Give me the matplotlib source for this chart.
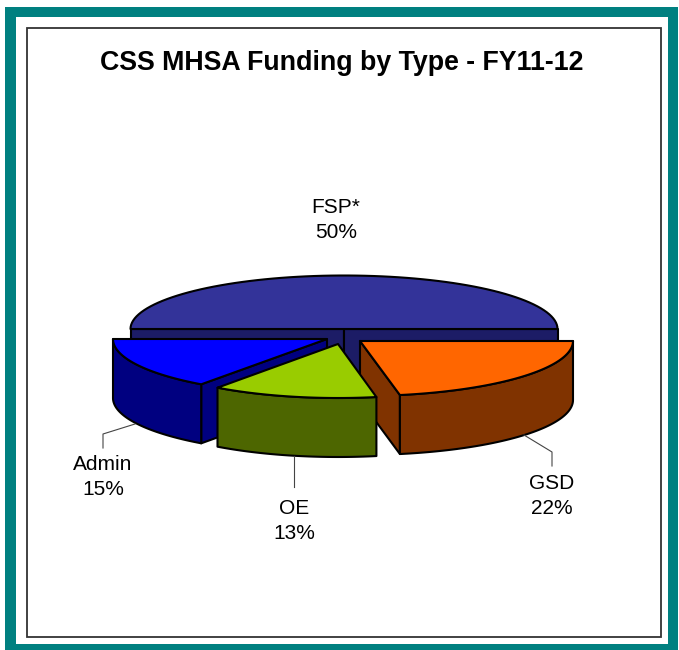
import matplotlib
matplotlib.use('Agg')
import matplotlib.pyplot as plt
from matplotlib.patches import Rectangle, Polygon
import numpy as np

plt.rcParams['font.family'] = ['Liberation Sans', 'DejaVu Sans']

title = 'CSS MHSA Funding by Type - FY11-12'
categories = ['FSP*', 'GSD', 'OE', 'Admin']
shares = [50, 22, 13, 15]
top_colors = ['#333399', '#FF6600', '#99CC00', '#0000FF']
side_colors = ['#1C1C66', '#803300', '#4D6600', '#000080']

# pie layout, in pixels of the picture
apex = {'FSP*': (344, 329), 'GSD': (360, 341), 'OE': (338, 344), 'Admin': (327, 339)}
radii = {'FSP*': (213.5, 53.5), 'GSD': (213, 55), 'OE': (205, 54), 'Admin': (214, 56)}
depth = 59
label_pos = {'FSP*': (336, 220), 'GSD': (552, 496), 'OE': (294, 521), 'Admin': (103, 477)}
leaders = {'GSD': [(524, 435), (552, 452), (552, 466)],
           'OE': [(294, 456), (294, 487)],
           'Admin': [(135, 424), (103, 434), (103, 448)]}

fig = plt.figure(figsize=(6.79, 6.5), dpi=100)
ax = fig.add_axes([0, 0, 1, 1])
ax.set_xlim(0, 679)
ax.set_ylim(650, 0)
ax.axis('off')

# teal border and inner frame
ax.add_patch(Rectangle((5, 7), 673, 643, fc='#008080', ec='none'))
ax.add_patch(Rectangle((16, 17), 652, 627, fc='white', ec='none'))
ax.add_patch(Rectangle((27, 28), 633.5, 609, fc='white', ec='#333333', lw=1.3))


def arc(name, a0, a1, n=80):
    cx, cy = apex[name]
    rx, ry = radii[name]
    t = np.radians(np.linspace(a0, a1, n))
    return np.column_stack([cx + rx * np.cos(t), cy - ry * np.sin(t)])


# slice angles, going clockwise from 180 deg so FSP is the back half
angles = {}
start = 180.0
for name, share in zip(categories, shares):
    angles[name] = (start, start - share * 3.6)
    start -= share * 3.6

edge = dict(ec='black', lw=1.5, joinstyle='round')
colors = dict(zip(categories, zip(top_colors, side_colors)))


def cut_wall(name, deg):
    cx, cy = apex[name]
    x, y = arc(name, deg, deg, 1)[0]
    ax.add_patch(Polygon([(cx, cy), (x, y), (x, y + depth), (cx, cy + depth)],
                         fc=colors[name][1], **edge))


def draw_slice(name, cut=None):
    cx, cy = apex[name]
    a0, a1 = angles[name]
    top, side = colors[name]
    if cut is not None:
        cut_wall(name, cut)
    # outer wall
    front = arc(name, a0, a1)
    ax.add_patch(Polygon(np.vstack([front, (front + [0, depth])[::-1]]), fc=side, **edge))
    ax.add_patch(Polygon(np.vstack([[cx, cy], front]), fc=top, **edge))


# FSP: back half with two flat cut faces, drawn first
cut_wall('FSP*', 180)
cut_wall('FSP*', 0)
ax.add_patch(Polygon(np.vstack([apex['FSP*'], arc('FSP*', 0, 180)]), fc=colors['FSP*'][0], **edge))

# Admin and GSD show the cut that faces the front, OE sits on top
draw_slice('Admin', cut=angles['Admin'][0])
draw_slice('GSD', cut=angles['GSD'][1])
draw_slice('OE')

for name, pts in leaders.items():
    xs, ys = zip(*pts)
    ax.plot(xs, ys, color='#444444', lw=0.8, zorder=1)

for name, share in zip(categories, shares):
    x, y = label_pos[name]
    ax.text(x, y, f'{name}\n{share}%', ha='center', va='center', fontsize=15,
            linespacing=1.42, color='black')

ax.text(342, 63, title, ha='center', va='center', fontsize=19.25, fontweight='bold', color='black')

fig.savefig('out.png', dpi=100)
